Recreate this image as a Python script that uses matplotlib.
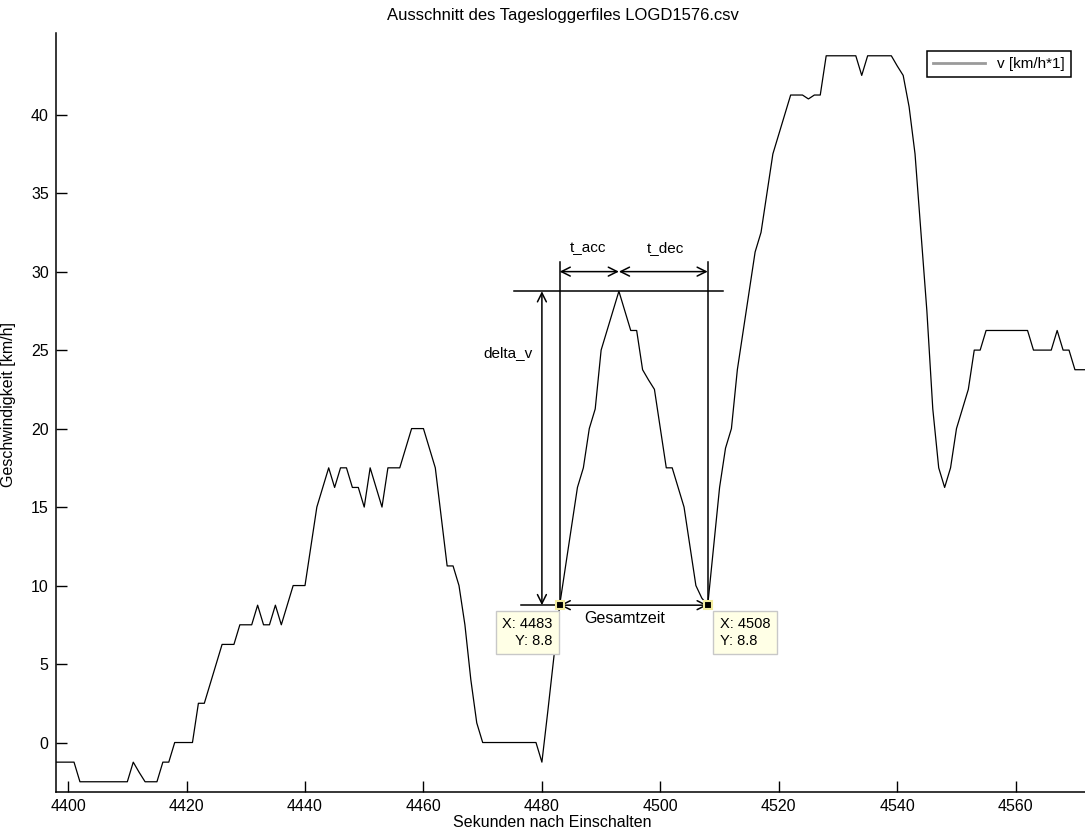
import numpy as np
import matplotlib.pyplot as plt

plt.rcParams['font.family'] = ['Liberation Sans', 'DejaVu Sans']

# Sekunden nach Einschalten (1 Hz Logger)
t = np.arange(4398, 4573)
# Geschwindigkeit [km/h]
v = [
    -1.25, -1.25,                                                    # 4398-4399
    -1.25, -1.25, -2.5, -2.5, -2.5, -2.5, -2.5, -2.5, -2.5, -2.5,     # 4400
    -2.5, -1.25, -1.9, -2.5, -2.5, -2.5, -1.25, -1.25, 0, 0,         # 4410
    0, 0, 2.5, 2.5, 3.75, 5, 6.25, 6.25, 6.25, 7.5,                  # 4420
    7.5, 7.5, 8.75, 7.5, 7.5, 8.75, 7.5, 8.75, 10, 10,               # 4430
    10, 12.5, 15, 16.25, 17.5, 16.25, 17.5, 17.5, 16.25, 16.25,      # 4440
    15, 17.5, 16.25, 15, 17.5, 17.5, 17.5, 18.75, 20, 20,            # 4450
    20, 18.75, 17.5, 14.4, 11.25, 11.25, 10, 7.5, 4.0, 1.25,         # 4460
    0, 0, 0, 0, 0, 0, 0, 0, 0, 0,                                    # 4470
    -1.25, 2.0, 5.4, 8.75, 11.25, 13.75, 16.25, 17.5, 20, 21.25,     # 4480
    25, 26.25, 27.5, 28.75, 27.5, 26.25, 26.25, 23.75, 23.1, 22.5,   # 4490
    20, 17.5, 17.5, 16.25, 15, 12.5, 10, 9.2, 8.75, 12.5,            # 4500
    16.25, 18.75, 20, 23.75, 26.25, 28.75, 31.25, 32.5, 35, 37.5,    # 4510
    38.75, 40, 41.25, 41.25, 41.25, 41.0, 41.25, 41.25, 43.75, 43.75, # 4520
    43.75, 43.75, 43.75, 43.75, 42.5, 43.75, 43.75, 43.75, 43.75, 43.75, # 4530
    43.1, 42.5, 40.5, 37.5, 32.5, 27.5, 21.25, 17.5, 16.25, 17.5,    # 4540
    20, 21.25, 22.5, 25, 25, 26.25, 26.25, 26.25, 26.25, 26.25,      # 4550
    26.25, 26.25, 26.25, 25, 25, 25, 25, 26.25, 25, 25,              # 4560
    23.75, 23.75, 23.75,                                             # 4570-4572
]

x_start, x_peak, x_end = 4483, 4493, 4508
v_low, v_peak = 8.75, 28.75

fig = plt.figure(figsize=(10.85, 8.34), dpi=100)
ax = fig.add_axes([0.0513, 0.0504, 0.9487, 0.9100])

ax.plot(t, v, color='k', lw=0.9, label='v [km/h*1]')

ax.set_xlim(4397.9, 4571.7)
ax.set_ylim(-3.15, 45.2)
ax.set_xticks(range(4400, 4561, 20))
ax.set_yticks(range(0, 41, 5))
ax.tick_params(direction='in', length=8, width=1, labelsize=11.5, pad=5)
ax.spines['top'].set_visible(False)
ax.spines['right'].set_visible(False)
ax.spines['left'].set_linewidth(1.1)
ax.spines['bottom'].set_linewidth(1.1)

ax.set_xlabel('Sekunden nach Einschalten', fontsize=11.5)
ax.set_ylabel('Geschwindigkeit [km/h]', fontsize=11.5)
ax.xaxis.set_label_coords(0.482, -0.030)
ax.yaxis.set_label_coords(-0.039, 0.51)

fig.text(0.519, 0.982, 'Ausschnitt des Tagesloggerfiles LOGD1576.csv',
         ha='center', va='center', fontsize=12)

# Hilfslinien
lk = dict(color='k', lw=1.1)
ax.plot([4475.3, 4510.5], [v_peak, v_peak], **lk)
ax.plot([4476.5, x_start], [v_low, v_low], **lk)
ax.plot([x_start, x_start], [v_low, 30.6], **lk)
ax.plot([x_end, x_end], [v_low, 30.6], **lk)

pfeil = dict(arrowstyle='<->', color='k', lw=1.1, shrinkA=0, shrinkB=0,
             mutation_scale=16)
ax.annotate('', xy=(x_start, 30), xytext=(x_peak, 30), arrowprops=pfeil)
ax.annotate('', xy=(x_peak, 30), xytext=(x_end, 30), arrowprops=pfeil)
ax.annotate('', xy=(4480, v_peak), xytext=(4480, v_low), arrowprops=pfeil)
ax.annotate('', xy=(x_start, v_low), xytext=(x_end, v_low), arrowprops=pfeil)

ax.text(4487.8, 31.5, 't_acc', ha='center', va='center', fontsize=11)
ax.text(4500.8, 31.5, 't_dec', ha='center', va='center', fontsize=11)
ax.text(4478.5, 24.8, 'delta_v', ha='right', va='center', fontsize=11)
ax.text(4493.9, 7.9, 'Gesamtzeit', ha='center', va='center', fontsize=11.5)

# Datentipps
ax.plot([x_start, x_end], [v_low, v_low], 's', ms=6, mfc='k', mec='#f3eca0',
        mew=1.5, zorder=5)
box = dict(boxstyle='square,pad=0.45', fc='#ffffe6', ec='#c8c8c8', lw=1)
ax.annotate('X: %d\nY: %.1f' % (x_start, v_low), xy=(x_start, v_low),
            xytext=(-7, -12), textcoords='offset pixels', ha='right', va='top',
            multialignment='right', fontsize=10.5, bbox=box, linespacing=1.25)
ax.annotate('X: %d\nY: %.1f' % (x_end, v_low), xy=(x_end, v_low),
            xytext=(12, -12), textcoords='offset pixels', ha='left', va='top',
            multialignment='left', fontsize=10.5, bbox=box, linespacing=1.25)

leg = ax.legend(loc='upper right', bbox_to_anchor=(0.9864, 0.976),
                borderaxespad=0, fancybox=False, fontsize=11,
                handlelength=3.4, edgecolor='k', framealpha=1)
leg.get_frame().set_linewidth(1.1)
leg.get_lines()[0].set_color('#9a9a9a')
leg.get_lines()[0].set_linewidth(2)

plt.savefig('out.png', dpi=100)
